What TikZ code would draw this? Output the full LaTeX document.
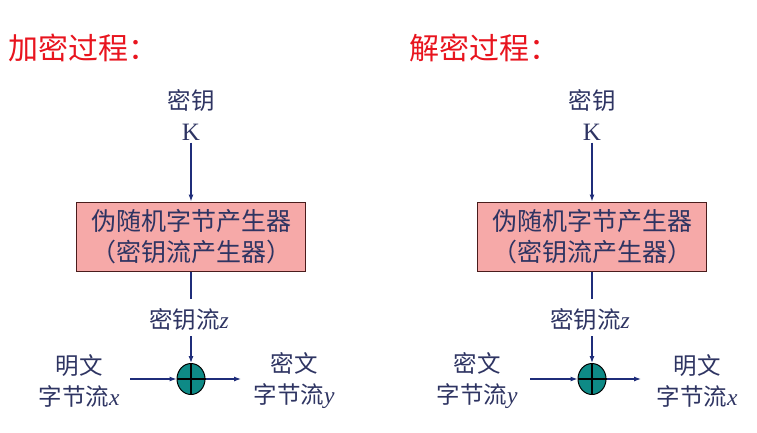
\documentclass[tikz,border=0pt]{standalone}
\usepackage{fontspec}
\setmainfont{Liberation Serif}
\newfontfamily\cjk{Noto Sans CJK SC}
\usetikzlibrary{arrows.meta,shapes.geometric}
\definecolor{txt}{HTML}{2E3462}
\definecolor{ln}{HTML}{1F2D7A}
\definecolor{boxfill}{HTML}{F6A9A8}
\definecolor{boxline}{HTML}{4A1C1C}
\definecolor{xorfill}{HTML}{0E8A86}
\definecolor{ttl}{HTML}{E8141E}
\tikzset{
  lbl/.style={text=txt, font=\cjk\fontsize{23.5}{31}\selectfont, inner sep=0pt, align=center},
  title/.style={text=ttl, font=\cjk\fontsize{30}{32}\selectfont, inner sep=0pt, anchor=west},
  gen/.style={draw=boxline, line width=1pt, fill=boxfill, text=txt, minimum width=229pt, minimum height=69pt, inner sep=0pt, align=center, font=\cjk\fontsize{25}{31}\selectfont},
  xor/.style={ellipse, draw=black, line width=1pt, fill=xorfill, minimum width=28pt, minimum height=31pt, inner sep=0pt},
  conn/.style={draw=ln, line width=1.1pt},
  arr/.style={conn, -{Latex[length=7pt,width=5pt]}},
}
\newcommand{\lat}[1]{{\rmfamily\fontsize{25}{31}\selectfont #1}}
\newcommand{\ita}[1]{{\rmfamily\itshape #1}}
\begin{document}
\begin{tikzpicture}[x=1pt,y=-1pt]
\useasboundingbox (0,0) rectangle (757,432);
% titles
\node[title] (t1) at (8,48) {加密过程：};
\node[title] (t2) at (409,48) {解密过程：};
% ---------- left: encryption ----------
\node[lbl] (k1) at (191,115) {密钥\\\lat{K}};
\node[gen] (g1) at (191,236.5) {伪随机字节产生器\\（密钥流产生器）};
\node[lbl] (z1) at (189,320) {密钥流\ita{z}};
\node[xor] (x1) at (191,379) {};
\node[lbl] (p1) at (79,381) {明文\\字节流\ita{x}};
\node[lbl] (c1) at (294,381) {密文\\字节流\ita{y}};
\coordinate (a1) at (130,379);
\coordinate (b1) at (241,379);
\draw[arr] ([yshift=-2pt]k1.south -| g1.north) -- (g1.north);
\draw[conn] (g1.south) -- ([yshift=10pt]z1.north -| g1.south);
\draw[arr] ([yshift=-5pt]z1.south -| x1.north) -- (x1.north);
\draw[arr] (a1) -- (x1.west);
\draw[arr] (x1.east) -- (b1);
\draw[black, line width=1.3pt] (x1.north) -- (x1.south) (x1.west) -- (x1.east);
% ---------- right: decryption ----------
\node[lbl] (k2) at (592,115) {密钥\\\lat{K}};
\node[gen] (g2) at (592,236.5) {伪随机字节产生器\\（密钥流产生器）};
\node[lbl] (z2) at (590,320) {密钥流\ita{z}};
\node[xor] (x2) at (592,379) {};
\node[lbl] (p2) at (477,381) {密文\\字节流\ita{y}};
\node[lbl] (c2) at (697,381) {明文\\字节流\ita{x}};
\coordinate (a2) at (530,379);
\coordinate (b2) at (641,379);
\draw[arr] ([yshift=-2pt]k2.south -| g2.north) -- (g2.north);
\draw[conn] (g2.south) -- ([yshift=10pt]z2.north -| g2.south);
\draw[arr] ([yshift=-5pt]z2.south -| x2.north) -- (x2.north);
\draw[arr] (a2) -- (x2.west);
\draw[arr] (x2.east) -- (b2);
\draw[black, line width=1.3pt] (x2.north) -- (x2.south) (x2.west) -- (x2.east);
\end{tikzpicture}
\end{document}
